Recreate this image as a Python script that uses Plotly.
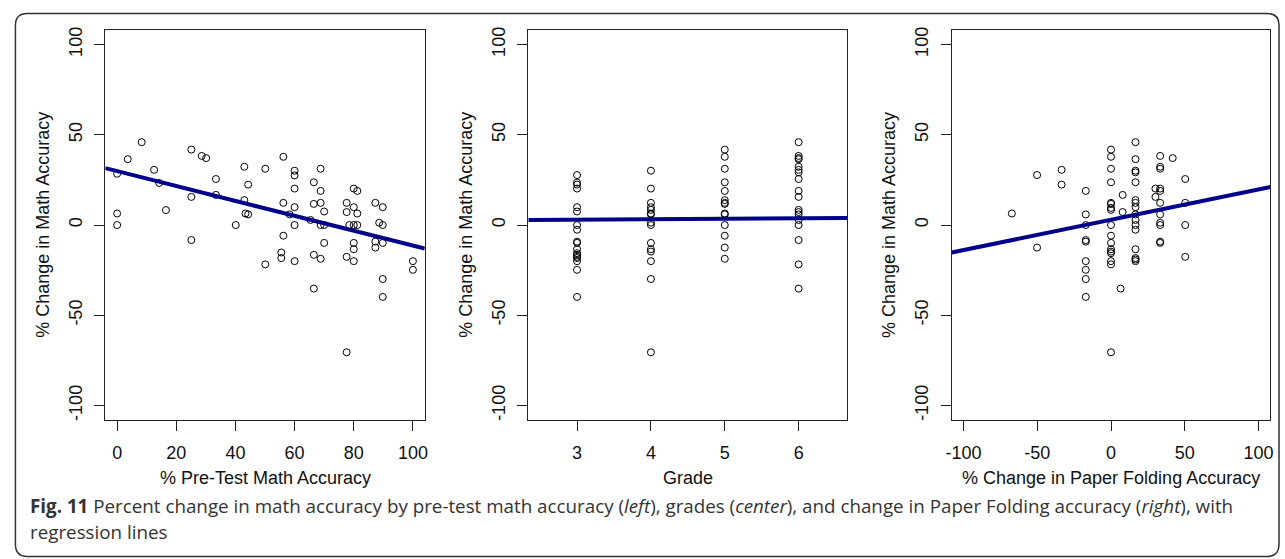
import plotly.graph_objects as go

# ---------------- data ----------------
# Panel 1: % pre-test math accuracy vs % change in math accuracy
pre_x = [0, 0, 0, 3.6, 8.3, 12.5, 14.2, 16.5, 25.1, 25.1,
         25.1, 28.6, 30.1, 33.4, 33.4, 40.1, 43, 43, 43.4, 44.3,
         44.3, 50.1, 50.1, 56.2, 56.2, 56.2, 55.5, 55.5, 58.3, 60,
         60, 60, 60, 60, 60, 65.4, 66.5, 66.5, 66.5, 66.5,
         68.8, 68.8, 68.8, 68.8, 68.8, 70, 70, 70, 77.6, 77.6,
         77.6, 77.6, 78.5, 80, 81.2, 80, 81.2, 80, 81.2, 80,
         80, 80, 87.3, 87.3, 87.3, 88.6, 89.8, 89.8, 89.8, 89.8,
         89.8, 100, 100]
pre_y = [28.4, 6.4, 0, 36.5, 45.9, 30.6, 23.3, 8.3, 41.8, 15.6,
         -8.3, 38.3, 37.1, 25.5, 16.7, 0, 32.3, 13.8, 6.4, 5.9,
         22.4, 31.2, -21.8, 37.8, 12.3, -5.9, -15.2, -18.3, 5.9, 30.1,
         27.5, 20.2, 9.9, 0, -20, 2.8, 23.7, 11.7, -16.5, -35.2,
         31.2, 18.9, 12.3, 0, -18.7, 7.5, 0, -9.9, 12.3, 7.2,
         -17.6, -70.5, 0, 20.2, 18.9, 9.9, 6.4, 0, 0, -9.9,
         -13.4, -20, 12.3, -9.2, -12.5, 1.3, 9.9, 0, -9.9, -29.9,
         -39.8, -20, -24.8]

# Panel 2: grade vs % change in math accuracy
grades = [3, 4, 5, 6]
grade3_y = [27.7, 23.5, 22.4, 20.2, 9.9, 7.5, 0, -2.6, -9.2, -9.9,
            -13.4, -15.6, -16.5, -17.6, -18.3, -20, -24.8, -39.8]
grade4_y = [30.1, 20.2, 12.3, 9.9, 8.4, 6.4, 5.9, 1.3, 0, -9.9,
            -13.4, -14.7, -20, -29.9, -70.5]
grade5_y = [41.8, 37.8, 31.2, 23.7, 18.9, 13.8, 12.3, 11.7, 6.4, 5.9,
            0, -5.9, -12.5, -18.7]
grade6_y = [45.9, 38.3, 37.1, 36.5, 32.3, 30.6, 29.2, 25.5, 18.9, 15.6,
            8.4, 7.2, 5.9, 2.8, 0, -8.3, -21.8, -35.2]

# Panel 3: % change in paper folding accuracy vs % change in math accuracy
fold_x = [-67.2, -50.1, -50.1, -33.5, -33.5,
          -17.1, -17.1, -17.1, -17.1, -17.1, -17.1, -17.1, -17.1, -17.1,
          0, 0, 0, 0, 0, 0, 0, 0, 0, 0, 0, 0, 0, 0, 0, 0, 0,
          7.9, 7.9, 6.5,
          16.6, 16.6, 16.6, 16.6, 16.6, 16.6, 16.6, 16.6, 16.6, 16.6, 16.6,
          16.6, 16.6, 16.6, 16.6, 16.6,
          30.1, 30.1,
          33.3, 33.3, 33.3, 33.3, 33.3, 33.3, 33.3, 33.3, 33.3, 33.3, 33.3,
          41.8,
          50.3, 50.3, 50.3, 50.3]
fold_y = [6.4, 27.7, -12.5, 30.6, 22.4,
          18.9, 5.9, 0, -8.3, -9.2, -20, -24.8, -29.9, -39.8,
          41.8, 37.8, 31.2, 23.7, 12.3, 11.7, 9.5, 8.4, 0, -5.9, -9.9,
          -13.4, -14.7, -15.6, -20, -21.8, -70.5,
          16.7, 7.2, -35.2,
          45.9, 36.5, 30.1, 29.2, 23.7, 13.8, 12.3, 9.9, 5.9, 2.8, 0,
          -2.6, -13.4, -18.3, -19.1, -20,
          20.2, 15.6,
          38.3, 32.3, 31.2, 20.2, 18.9, 12.3, 5.9, 1.3, 0, -9.2, -9.9,
          37.1,
          25.5, 12.3, 0, -17.6]

# Regression lines (intercept, slope)
fit_intercepts = [29.9, 2.2, 2.95]
fit_slopes = [-0.413, 0.25, 0.168]

# Axis labels / ticks
x_titles = ["% Pre-Test Math Accuracy", "Grade", "% Change in Paper Folding Accuracy"]
y_title = "% Change in Math Accuracy"
x_tickvals = [[0, 20, 40, 60, 80, 100], [3, 4, 5, 6], [-100, -50, 0, 50, 100]]
x_ticktext = [["0", "20", "40", "60", "80", "100"], ["3", "4", "5", "6"],
              ["-100", "-50", "0", "50", "100"]]
y_tickvals = [-100, -50, 0, 50, 100]
y_ticktext = ["-100", "-50", "0", "50", "100"]
x_ranges = [[-4, 104], [2.34, 6.66], [-108, 108]]
y_range = [-108, 108]

caption_bold = "Fig. 11"
caption_line1 = (" Percent change in math accuracy by pre-test math accuracy (<i>left</i>), "
                 "grades (<i>center</i>), and change in Paper Folding accuracy (<i>right</i>), with")
caption_line2 = "regression lines"

# ---------------- layout geometry ----------------
W, H = 1285, 559
panel_px = [(100, 421.7), (526, 847.3), (952.3, 1273.3)]
top_px, bot_px = 27.3, 420.0


def px(x):
    return x / W


def py(y):
    return 1 - y / H


grade_x = ([grades[0]] * len(grade3_y) + [grades[1]] * len(grade4_y)
           + [grades[2]] * len(grade5_y) + [grades[3]] * len(grade6_y))
grade_y = grade3_y + grade4_y + grade5_y + grade6_y

xs = [pre_x, grade_x, fold_x]
ys = [pre_y, grade_y, fold_y]

fig = go.Figure()
FONT = "Liberation Sans, Arial, sans-serif"
for i in range(3):
    ax = "" if i == 0 else str(i + 1)
    fig.add_trace(go.Scatter(
        x=xs[i], y=ys[i], mode="markers",
        marker=dict(symbol="circle-open", size=7, color="black",
                    line=dict(width=1, color="black")),
        xaxis="x" + ax, yaxis="y" + ax, showlegend=False, hoverinfo="x+y"))
    x0, x1 = x_ranges[i]
    fig.add_trace(go.Scatter(
        x=[x0, x1],
        y=[fit_intercepts[i] + fit_slopes[i] * x0, fit_intercepts[i] + fit_slopes[i] * x1],
        mode="lines", line=dict(color="#00008B", width=4),
        xaxis="x" + ax, yaxis="y" + ax, showlegend=False, hoverinfo="skip"))

    axis_common = dict(showline=True, mirror=True, linecolor="#222", linewidth=1.2,
                       ticks="outside", ticklen=10, tickwidth=1.2, tickcolor="#222",
                       showgrid=False, zeroline=False,
                       tickfont=dict(family=FONT, size=18, color="#111"))
    fig.layout["xaxis" + ax] = dict(
        domain=[px(panel_px[i][0]), px(panel_px[i][1])],
        range=x_ranges[i], tickvals=x_tickvals[i], ticktext=x_ticktext[i],
        anchor="y" + ax, ticklabelstandoff=6, **axis_common)
    fig.layout["yaxis" + ax] = dict(
        domain=[py(bot_px), py(top_px)],
        range=y_range, tickvals=y_tickvals, ticktext=y_ticktext,
        anchor="x" + ax, tickangle=-90, ticklabelstandoff=5, **axis_common)

    cx = (panel_px[i][0] + panel_px[i][1]) / 2
    fig.add_annotation(x=px(cx), y=py(478), xref="paper", yref="paper",
                       text=x_titles[i], showarrow=False,
                       font=dict(family=FONT, size=18, color="#111"),
                       xanchor="center", yanchor="middle")
    fig.add_annotation(x=px(panel_px[i][0] - 63), y=py((top_px + bot_px) / 2),
                       xref="paper", yref="paper", text=y_title, showarrow=False,
                       textangle=-90,
                       font=dict(family=FONT, size=18, color="#111"),
                       xanchor="center", yanchor="middle")

CAP_FONT = "Open Sans, Noto Sans, sans-serif"
fig.add_annotation(x=px(22), y=py(507), xref="paper", yref="paper",
                   text="<b>" + caption_bold + "</b>" + caption_line1, showarrow=False,
                   font=dict(family=CAP_FONT, size=18.8, color="#333"),
                   xanchor="left", yanchor="middle")
fig.add_annotation(x=px(22), y=py(533), xref="paper", yref="paper",
                   text=caption_line2, showarrow=False,
                   font=dict(family=CAP_FONT, size=18.8, color="#333"),
                   xanchor="left", yanchor="middle")

# rounded frame
L, T, R, B, r = 9.5, 10.5, 1282, 557.5, 12
path = (f"M {px(L + r)},{py(T)} L {px(R - r)},{py(T)} "
        f"Q {px(R)},{py(T)} {px(R)},{py(T + r)} L {px(R)},{py(B - r)} "
        f"Q {px(R)},{py(B)} {px(R - r)},{py(B)} L {px(L + r)},{py(B)} "
        f"Q {px(L)},{py(B)} {px(L)},{py(B - r)} L {px(L)},{py(T + r)} "
        f"Q {px(L)},{py(T)} {px(L + r)},{py(T)} Z")
fig.add_shape(type="path", path=path, xref="paper", yref="paper",
              line=dict(color="#333", width=1.5))

fig.update_layout(width=W, height=H, margin=dict(l=0, r=0, t=0, b=0),
                  paper_bgcolor="white", plot_bgcolor="white",
                  showlegend=False)

fig.write_html("out.html", config={"displayModeBar": False},
               post_script="document.body.style.margin='0px';document.body.style.padding='0px';")
